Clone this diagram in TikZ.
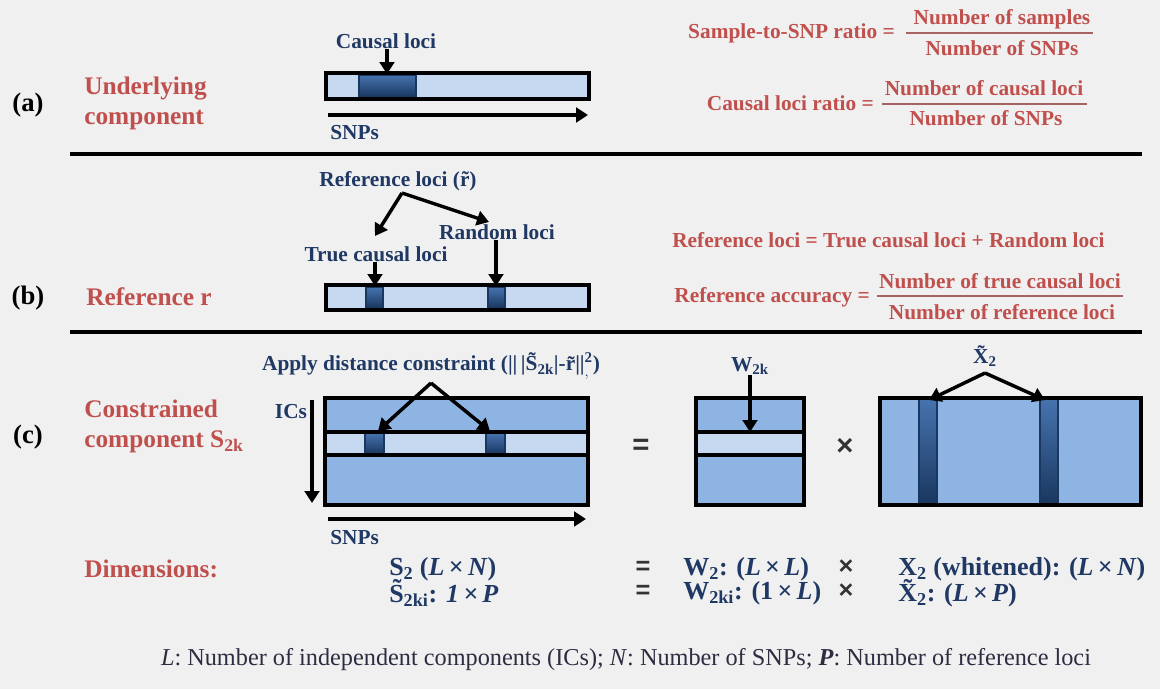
\documentclass[tikz,border=0pt]{standalone}
\usepackage{fontspec}
\setmainfont{Liberation Serif}
\newfontfamily\sansf{Liberation Sans}
\usetikzlibrary{arrows.meta}
\definecolor{bg}{RGB}{240,240,240}
\definecolor{redt}{RGB}{192,80,77}
\definecolor{navy}{RGB}{31,56,100}
\definecolor{lightb}{RGB}{198,217,241}
\definecolor{midb}{RGB}{142,180,227}
\definecolor{darkt}{RGB}{70,115,175}
\definecolor{darkb}{RGB}{25,55,95}
\definecolor{foot}{RGB}{45,45,65}
\newcommand{\tms}{\,×\,}
\begin{document}
\begin{tikzpicture}[x=0.75pt,y=-0.75pt,
  lbl/.style={font=\fontsize{16}{19}\selectfont\bfseries, text=navy, inner sep=0pt},
  redlbl/.style={font=\fontsize{19}{22.5}\selectfont\bfseries, text=redt, inner sep=0pt, align=left, anchor=west},
  formula/.style={font=\fontsize{16}{19}\selectfont\bfseries, text=redt, inner sep=0pt},
  panel/.style={font=\fontsize{20}{24}\selectfont\bfseries, inner sep=0pt},
  dimtxt/.style={font=\fontsize{19.5}{22}\selectfont\bfseries, text=navy, inner sep=0pt, anchor=west},
  op/.style={font=\sansf\bfseries\fontsize{22}{22}\selectfont, text=black!80, inner sep=0pt},
  dimop/.style={font=\sansf\bfseries\fontsize{19}{19}\selectfont, text=black!80, inner sep=0pt, text height=9pt, text depth=0pt},
  arr/.style={line width=2.6pt, -{Triangle[width=11pt,length=9pt]}},
  frame/.style={line width=3.2pt},
  sep/.style={line width=3.2pt},
  fracline/.style={line width=1.1pt, draw=redt!60!gray},
  locus/.style={top color=darkt, bottom color=darkb, draw=darkb, line width=0.8pt},
]
\fill[bg] (0,0) rectangle (1160,689);
\useasboundingbox (0,0) rectangle (1160,689);

% ---------- (a)
\node[panel] (pa) at (28,105) {(a)};
\node[redlbl] (ua) at (84,103) {Underlying\\component};
\fill[lightb] (326,73) rectangle (589,99);
\draw[locus] (359,75) rectangle (416,97);
\draw[frame] (326,73) rectangle (589,99);
\node[lbl] (cl) at (386,41) {Causal loci};
\coordinate (clt) at (387,74);
\draw[arr] (cl.south -| clt) -- (clt);
\coordinate (sa1) at (328,115);
\coordinate (sa2) at (588,115);
\draw[arr] (sa1) -- (sa2);
\node[lbl, anchor=west] (snpa) at (330,133) {SNPs};

\node[formula, anchor=east] (f1) at (895,33) {Sample-to-SNP ratio =};
\node[formula] (f1n) at (1002,19) {Number of samples};
\node[formula] (f1d) at (1002,48) {Number of SNPs};
\draw[fracline] (906,33) -- (1093,33);

\node[formula, anchor=east] (f2) at (874,103) {Causal loci ratio =};
\node[formula] (f2n) at (984,88) {Number of causal loci};
\node[formula] (f2d) at (986,118) {Number of SNPs};
\draw[fracline] (882,104) -- (1087,104);

\draw[sep] (70,154) -- (1142,154);

% ---------- (b)
\node[panel] (pb) at (28,298) {(b)};
\node[redlbl] (rr) at (86,297) {Reference r};
\fill[lightb] (326,285) rectangle (589,310);
\draw[locus] (366,287) rectangle (383,308);
\draw[locus] (488,287) rectangle (505,308);
\draw[frame] (326,285) rectangle (589,310);
\node[lbl] (rl) at (398,181) {Reference loci (\~{r})};
\coordinate (apb) at (402,193);
\coordinate (tl1) at (375,236);
\coordinate (tl2) at (489,222);
\draw[arr] (apb) -- (tl1);
\draw[arr] (apb) -- (tl2);
\node[lbl] (rnd) at (497,232) {Random loci};
\node[lbl] (tcl) at (376,254) {True causal loci};
\coordinate (b1) at (375,286);
\coordinate (b2) at (496,286);
\draw[arr] (tcl.south -| b1) -- (b1);
\draw[arr] (rnd.south -| b2) -- (b2);

\node[formula, anchor=west] (rleq) at (672,240) {Reference loci = True causal loci + Random loci};
\node[formula, anchor=east] (f3) at (870,297) {Reference accuracy =};
\node[formula] (f3n) at (1000,281) {Number of true causal loci};
\node[formula] (f3d) at (1002,312) {Number of reference loci};
\draw[fracline] (877,296) -- (1123,296);

\draw[sep] (70,332) -- (1142,332);

% ---------- (c)
\node[panel] (pc) at (28,437) {(c)};
\node[redlbl] (cs) at (84,426) {Constrained\\component S\textsubscript{2k}};
\node[lbl] (ics) at (291,412) {ICs};
\coordinate (ic1) at (312,400);
\coordinate (ic2) at (312,503);
\draw[arr] (ic1) -- (ic2);

\fill[midb] (325,398) rectangle (588,505);
\fill[lightb] (325,432) rectangle (588,455);
\draw[locus] (365,433) rectangle (384,454);
\draw[locus] (486,433) rectangle (505,454);
\draw[frame] (325,432) -- (588,432) (325,455) -- (588,455);
\draw[frame] (325,398) rectangle (588,505);
\node[lbl] (adc) at (431,366) {Apply distance constraint (||\,|\~{S}\textsubscript{2k}|-\~{r}||$^{\mathbf{2}}_{,}$)};
\coordinate (apc) at (431,383);
\coordinate (ct1) at (378,431);
\coordinate (ct2) at (490,431);
\draw[arr] (apc) -- (ct1);
\draw[arr] (apc) -- (ct2);
\coordinate (sc1) at (328,519);
\coordinate (sc2) at (586,519);
\draw[arr] (sc1) -- (sc2);
\node[lbl, anchor=west] (snpc) at (330,538) {SNPs};

\node[op] (eq1) at (641,447) {=};

\fill[midb] (696,398) rectangle (804,505);
\fill[lightb] (696,432) rectangle (804,455);
\draw[frame] (696,432) -- (804,432) (696,455) -- (804,455);
\draw[frame] (696,398) rectangle (804,505);
\node[lbl] (w2k) at (750,366) {W\textsubscript{2k}};
\coordinate (wt) at (750,432);
\draw[arr] (w2k.south -| wt) -- (wt);

\node[op] (x1) at (845,447) {×};

\fill[midb] (880,398) rectangle (1141,505);
\draw[locus] (919,399) rectangle (937,504);
\draw[locus] (1040,399) rectangle (1058,504);
\draw[frame] (880,398) rectangle (1141,505);
\node[lbl] (xt) at (985,356) {\~{X}\textsubscript{2}};
\coordinate (apx) at (985,373);
\coordinate (xt1) at (929,400);
\coordinate (xt2) at (1045,400);
\draw[arr] (apx) -- (xt1);
\draw[arr] (apx) -- (xt2);

% ---------- dimensions
\node[redlbl] (dim) at (84,569) {Dimensions:};
\node[dimtxt] (d1) at (389,569) {S\textsubscript{2} (\textit{L}\tms\textit{N})};
\node[dimtxt] (d2) at (389,593) {\~{S}\textsubscript{2ki}: \textit{1\tms P}};
\node[dimop] (e1) at (643,568) {=};
\node[dimop] (e2) at (643,592) {=};
\node[dimtxt] (d3) at (683,569) {W\textsubscript{2}: (\textit{L}\tms\textit{L})};
\node[dimtxt] (d4) at (683,593) {W\textsubscript{2ki}: (1\tms\textit{L})};
\node[dimop] (m1) at (846,568) {×};
\node[dimop] (m2) at (846,592) {×};
\node[dimtxt] (d5) at (898,569) {X\textsubscript{2} (whitened): (\textit{L}\tms\textit{N})};
\node[dimtxt] (d6) at (898,593) {\~{X}\textsubscript{2}: (\textit{L}\tms\textit{P})};

\node[font=\fontsize{18.2}{21}\selectfont, text=foot, inner sep=0pt] (ft) at (626,660) {\textit{L}: Number of independent components (ICs); \textit{N}: Number of SNPs; \textbf{\textit{P}}: Number of reference loci};
\end{tikzpicture}
\end{document}
